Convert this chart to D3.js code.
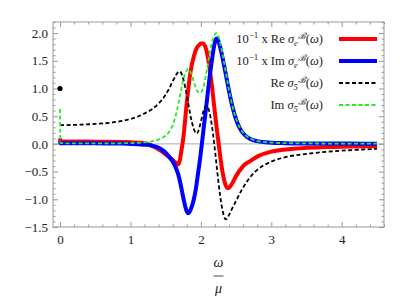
<!DOCTYPE html>
<html>
<head>
<meta charset="utf-8">
<script src="https://cdn.jsdelivr.net/npm/d3@7"></script>
<style>
  body { margin: 0; background: #fff; }
  svg text { font-family: "Liberation Serif", "Times New Roman", "DejaVu Serif", serif; }
  .axis path { display: none; }
  .axis line { stroke: #999; }
</style>
</head>
<body>
<div id="chart"></div>
<script>
// valores
var omega = [0, 0.004, 0.1, 0.3, 0.5, 0.7, 0.9, 1.0, 1.1, 1.2, 1.3, 1.4, 1.45, 1.5, 1.55, 1.6, 1.65, 1.68, 1.7, 1.72,
  1.75, 1.8, 1.82, 1.85, 1.9, 1.93, 1.95, 1.98, 2.0, 2.03, 2.05, 2.08, 2.1, 2.15, 2.2, 2.22, 2.25, 2.3, 2.35, 2.38,
  2.4, 2.45, 2.5, 2.55, 2.6, 2.7, 2.8, 3.0, 3.2, 3.5, 3.8, 4.1, 4.5];

// 10^-1 x Re sigma_e
var reSigmaE = [0.10, 0.05, 0.045, 0.042, 0.04, 0.037, 0.033, 0.03, 0.022, 0.01, -0.03, -0.10, -0.14, -0.19, -0.24, -0.29, -0.35, -0.37, -0.30, -0.15,
  0.1, 0.75, 0.98, 1.28, 1.58, 1.7, 1.75, 1.79, 1.81, 1.81, 1.79, 1.68, 1.55, 1.12, 0.55, 0.33, 0.02, -0.45, -0.74, -0.80,
  -0.79, -0.70, -0.58, -0.48, -0.40, -0.31, -0.23, -0.14, -0.10, -0.07, -0.055, -0.048, -0.04];

// 10^-1 x Im sigma_e
var imSigmaE = [0.05, 0.01, 0.01, 0.01, 0.01, 0.008, 0.005, 0.0, -0.005, -0.015, -0.03, -0.07, -0.11, -0.16, -0.23, -0.32, -0.45, -0.56, -0.66, -0.78,
  -0.97, -1.22, -1.25, -1.2, -1.0, -0.8, -0.62, -0.35, -0.15, 0.18, 0.4, 0.72, 0.95, 1.45, 1.84, 1.9, 1.85, 1.6, 1.28, 1.08,
  0.95, 0.66, 0.44, 0.29, 0.19, 0.09, 0.05, 0.022, 0.013, 0.008, 0.006, 0.005, 0.004];

// Re sigma_5
var reSigma5 = [0.34, 0.34, 0.34, 0.348, 0.36, 0.38, 0.42, 0.45, 0.49, 0.55, 0.62, 0.73, 0.8, 0.89, 1.0, 1.13, 1.25, 1.30, 1.31, 1.28,
  1.17, 0.88, 0.74, 0.52, 0.27, 0.19, 0.2, 0.3, 0.4, 0.56, 0.64, 0.69, 0.66, 0.38, -0.12, -0.35, -0.7, -1.15, -1.36, -1.33,
  -1.28, -1.15, -1.03, -0.9, -0.79, -0.6, -0.47, -0.32, -0.24, -0.18, -0.14, -0.115, -0.09];

// Im sigma_5
var imSigma5 = [0.63, 0.02, 0.01, 0.01, 0.01, 0.01, 0.012, 0.015, 0.02, 0.03, 0.045, 0.08, 0.11, 0.15, 0.22, 0.34, 0.55, 0.72, 0.85, 0.98,
  1.16, 1.33, 1.35, 1.3, 1.12, 1.0, 0.95, 0.92, 0.93, 1.0, 1.1, 1.3, 1.45, 1.8, 1.98, 2.0, 1.94, 1.66, 1.32, 1.1,
  0.97, 0.67, 0.45, 0.3, 0.2, 0.095, 0.052, 0.024, 0.014, 0.009, 0.006, 0.005, 0.004];

var dotPoint = [0, 1.0];

var xTicks = [0, 1, 2, 3, 4];
var yTicks = [-1.5, -1.0, -0.5, 0.0, 0.5, 1.0, 1.5, 2.0];

var series = [
  { name: "reE", values: reSigmaE, color: "#ff0000", width: 4, dash: null },
  { name: "imE", values: imSigmaE, color: "#0000ff", width: 4, dash: null },
  { name: "re5", values: reSigma5, color: "#000000", width: 1.8, dash: "4,2.5" },
  { name: "im5", values: imSigma5, color: "#22ee22", width: 1.8, dash: "4,2.5" }
];

var W = 407, H = 298,
  margin = { left: 53, right: 23, top: 22, bottom: 71 },
  width = W - margin.left - margin.right,
  height = H - margin.top - margin.bottom;

var svg = d3.select("#chart").append("svg")
  .attr("width", W).attr("height", H);

var g = svg.append("g").attr("transform", "translate(" + margin.left + "," + margin.top + ")");

var x = d3.scaleLinear().domain([-0.1, 4.6]).range([0, width]);
var y = d3.scaleLinear().domain([-1.5, 2.2]).range([height, 0]);

var xMinor = d3.range(-0.0, 4.61, 0.2).map(function (d) { return +d.toFixed(1) }).filter(function (d) { return xTicks.indexOf(d) < 0 });
var yMinor = d3.range(-1.5, 2.21, 0.1).map(function (d) { return +d.toFixed(1) }).filter(function (d) { return yTicks.indexOf(d) < 0 });

// linea del eje y=0
g.append("line")
  .attr("x1", 0).attr("x2", width)
  .attr("y1", y(0)).attr("y2", y(0))
  .attr("stroke", "#aaa").attr("stroke-width", 1);

function drawAxes() {
  var fmt = d3.format(".1f");
  // abajo
  g.append("g").attr("class", "axis").attr("transform", "translate(0," + height + ")")
    .call(d3.axisBottom(x).tickValues(xTicks).tickSize(-5).tickPadding(8).tickFormat(d3.format("d")));
  g.append("g").attr("class", "axis").attr("transform", "translate(0," + height + ")")
    .call(d3.axisBottom(x).tickValues(xMinor).tickSize(-2.5).tickFormat(""));
  // arriba
  g.append("g").attr("class", "axis")
    .call(d3.axisTop(x).tickValues(xTicks).tickSize(-5).tickFormat(""));
  g.append("g").attr("class", "axis")
    .call(d3.axisTop(x).tickValues(xMinor).tickSize(-2.5).tickFormat(""));
  // izquierda
  g.append("g").attr("class", "axis")
    .call(d3.axisLeft(y).tickValues(yTicks).tickSize(-5).tickPadding(5).tickFormat(fmt));
  g.append("g").attr("class", "axis")
    .call(d3.axisLeft(y).tickValues(yMinor).tickSize(-2.5).tickFormat(""));
  // derecha
  g.append("g").attr("class", "axis").attr("transform", "translate(" + width + ",0)")
    .call(d3.axisRight(y).tickValues(yTicks).tickSize(-5).tickFormat(""));
  g.append("g").attr("class", "axis").attr("transform", "translate(" + width + ",0)")
    .call(d3.axisRight(y).tickValues(yMinor).tickSize(-2.5).tickFormat(""));

  g.selectAll(".axis").attr("font-family", null);
  g.selectAll(".axis text").attr("font-size", 13).attr("fill", "#222");
}
drawAxes();

var line = d3.line()
  .x(function (d) { return x(d[0]) })
  .y(function (d) { return y(d[1]) })
  .curve(d3.curveMonotoneX);

var clip = svg.append("clipPath").attr("id", "clip").append("rect")
  .attr("width", width).attr("height", height);

g.append("g").attr("clip-path", "url(#clip)")
  .selectAll("path.serie")
  .data(series)
  .enter()
  .append("path")
  .attr("class", "serie")
  .attr("d", function (s) { return line(omega.map(function (o, i) { return [o, s.values[i]] })) })
  .attr("fill", "none")
  .attr("stroke", function (s) { return s.color })
  .attr("stroke-width", function (s) { return s.width })
  .attr("stroke-dasharray", function (s) { return s.dash })
  .attr("stroke-linejoin", "round");

g.append("circle")
  .attr("cx", x(dotPoint[0])).attr("cy", y(dotPoint[1])).attr("r", 2.6)
  .attr("fill", "#000");

// marco
g.append("rect")
  .attr("width", width).attr("height", height)
  .attr("fill", "none").attr("stroke", "#999").attr("stroke-width", 1);

// leyenda
var legend = g.append("g").attr("class", "legend");
var legRows = [
  { pre: "10", sup1: "−1", mid: " x Re ", sub: "e", s: series[0] },
  { pre: "10", sup1: "−1", mid: " x Im ", sub: "e", s: series[1] },
  { pre: "", sup1: "", mid: "Re ", sub: "5", s: series[2] },
  { pre: "", sup1: "", mid: "Im ", sub: "5", s: series[3] }
];
legRows.forEach(function (r, i) {
  var ly = 17 + i * 22;
  legend.append("line")
    .attr("x1", 286).attr("x2", 324).attr("y1", ly).attr("y2", ly)
    .attr("stroke", r.s.color).attr("stroke-width", r.s.width)
    .attr("stroke-dasharray", r.s.dash);
  var t = legend.append("text").attr("x", 270).attr("y", ly + 4)
    .attr("text-anchor", "end").attr("font-size", 12.5).attr("fill", "#222");
  if (r.pre) {
    t.append("tspan").text(r.pre);
    t.append("tspan").attr("dy", -5).attr("font-size", 9).text(r.sup1);
    t.append("tspan").attr("dy", 5).text(r.mid);
  } else {
    t.append("tspan").text(r.mid);
  }
  t.append("tspan").attr("font-style", "italic").text("σ");
  t.append("tspan").attr("dy", 3).attr("font-size", 8.5).attr("font-style", "italic").text(r.sub);
  t.append("tspan").attr("dy", -7).attr("font-size", 9).attr("font-style", "italic").text("ℬ");
  t.append("tspan").attr("dy", 4).text("(");
  t.append("tspan").attr("font-style", "italic").text("ω");
  t.append("tspan").text(")");
});

// etiqueta del eje x
var xl = g.append("g").attr("transform", "translate(" + (width / 2) + "," + (height + 36) + ")");
xl.append("text").attr("text-anchor", "middle").attr("y", 4).attr("font-size", 14)
  .attr("font-style", "italic").attr("fill", "#222").text("ω");
xl.append("line").attr("x1", -5).attr("x2", 5).attr("y1", 13).attr("y2", 13)
  .attr("stroke", "#222").attr("stroke-width", 0.8);
xl.append("text").attr("text-anchor", "middle").attr("y", 30).attr("font-size", 14)
  .attr("font-style", "italic").attr("fill", "#222").text("μ");
</script>
</body>
</html>
